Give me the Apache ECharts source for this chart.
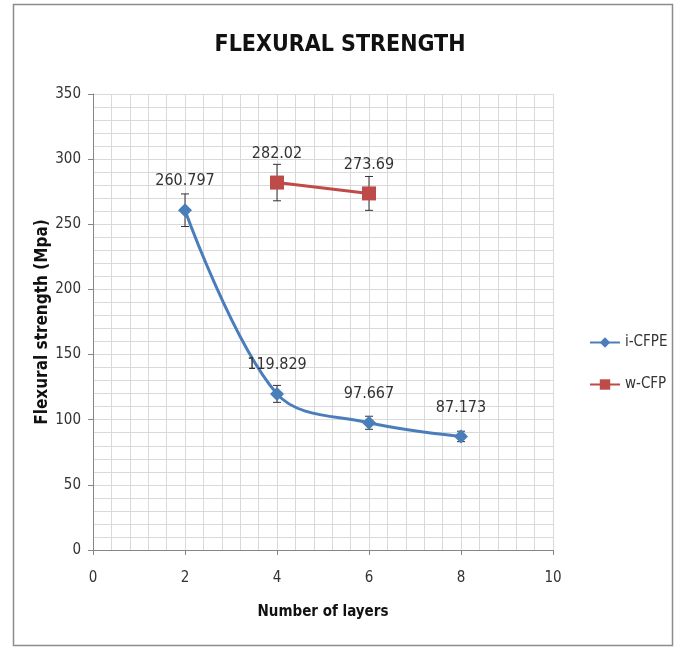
<!DOCTYPE html>
<html>
<head>
<meta charset="utf-8">
<script src="https://cdn.jsdelivr.net/npm/echarts@6/dist/echarts.min.js"></script>
<style>html,body{margin:0;padding:0;background:#fff}#chart{width:680px;height:648px}</style>
</head>
<body>
<div id="chart"></div>
<script>
const FONT = "'Liberation Sans Narrow', 'DejaVu Sans Condensed', 'Noto Sans', sans-serif";
const titleText = 'FLEXURAL STRENGTH';
const xName = 'Number of layers';
const yName = 'Flexural strength (Mpa)';
const iLayers = [2, 4, 6, 8];
const iCFPE = [260.797, 119.829, 97.667, 87.173];
const iCFPEErr = [12.5, 6.5, 5, 4];
const wLayers = [4, 6];
const wCFP = [282.02, 273.69];
const wCFPErr = [14, 13];

const chart = echarts.init(document.getElementById('chart'));

function errSeries(xs, ys, errs) {
  return {
    type: 'custom',
    z: 1,
    silent: true,
    data: xs.map((x, i) => [x, ys[i] - errs[i], ys[i] + errs[i]]),
    renderItem: function (params, api) {
      const lo = api.coord([api.value(0), api.value(1)]);
      const hi = api.coord([api.value(0), api.value(2)]);
      const w = 4;
      const st = { stroke: '#333', lineWidth: 1 };
      return {
        type: 'group',
        children: [
          { type: 'line', shape: { x1: lo[0], y1: lo[1], x2: hi[0], y2: hi[1] }, style: st },
          { type: 'line', shape: { x1: lo[0] - w, y1: lo[1], x2: lo[0] + w, y2: lo[1] }, style: st },
          { type: 'line', shape: { x1: hi[0] - w, y1: hi[1], x2: hi[0] + w, y2: hi[1] }, style: st }
        ]
      };
    }
  };
}

const gridColor = '#d9d9d9';
chart.setOption({
  animation: false,
  textStyle: { fontFamily: FONT },
  graphic: [{
    type: 'rect', z: -10,
    shape: { x: 13.5, y: 4.5, width: 659, height: 641 },
    style: { fill: 'none', stroke: '#8c8c8c', lineWidth: 1.5 }
  }],
  title: {
    text: titleText, left: 'center', top: 29,
    textStyle: { fontFamily: FONT, fontWeight: 'bold', fontSize: 23, color: '#111' }
  },
  legend: {
    orient: 'vertical', left: 584, top: 330, itemGap: 27,
    itemWidth: 30, itemHeight: 13,
    textStyle: { fontFamily: FONT, fontSize: 15, color: '#333' },
    data: ['i-CFPE', 'w-CFP']
  },
  grid: { left: 93, right: 127, top: 94, bottom: 98 },
  xAxis: {
    type: 'value', min: 0, max: 10, interval: 2,
    name: xName, nameLocation: 'middle', nameGap: 55,
    nameTextStyle: { fontFamily: FONT, fontWeight: 'bold', fontSize: 15, color: '#111' },
    axisLine: { show: true, lineStyle: { color: '#868686' } },
    axisTick: { show: true, length: 5, lineStyle: { color: '#868686' } },
    axisLabel: { fontSize: 15, color: '#333', margin: 21 },
    splitLine: { show: true, lineStyle: { color: gridColor } },
    minorTick: { show: false, splitNumber: 5 },
    minorSplitLine: { show: true, lineStyle: { color: gridColor } }
  },
  yAxis: {
    type: 'value', min: 0, max: 350, interval: 50,
    name: yName, nameLocation: 'middle', nameGap: 42, nameMoveOverlap: false,
    nameTextStyle: { fontFamily: FONT, fontWeight: 'bold', fontSize: 17, color: '#111' },
    axisLine: { show: true, lineStyle: { color: '#868686' } },
    axisTick: { show: true, length: 5, lineStyle: { color: '#868686' } },
    axisLabel: { fontSize: 15, color: '#333', margin: 12 },
    splitLine: { show: true, lineStyle: { color: gridColor } },
    minorTick: { show: false, splitNumber: 5 },
    minorSplitLine: { show: true, lineStyle: { color: gridColor } }
  },
  series: [
    {
      name: 'i-CFPE', type: 'line', smooth: 0.35, z: 3,
      data: iLayers.map((x, i) => [x, iCFPE[i]]),
      symbol: 'diamond', symbolSize: 14,
      color: '#4a7ebb',
      lineStyle: { width: 3, color: '#4a7ebb' },
      itemStyle: { color: '#4a7ebb' },
      label: { show: true, position: 'top', distance: 14, fontSize: 16, color: '#333', fontFamily: FONT,
        formatter: p => String(p.value[1]) }
    },
    {
      name: 'w-CFP', type: 'line', z: 3,
      data: wLayers.map((x, i) => [x, wCFP[i]]),
      symbol: 'rect', symbolSize: 14,
      color: '#be4b48',
      lineStyle: { width: 3, color: '#be4b48' },
      itemStyle: { color: '#be4b48' },
      label: { show: true, position: 'top', distance: 14, fontSize: 16, color: '#333', fontFamily: FONT,
        formatter: p => String(p.value[1]) }
    },
    errSeries(iLayers, iCFPE, iCFPEErr),
    errSeries(wLayers, wCFP, wCFPErr)
  ]
});
</script>
</body>
</html>
